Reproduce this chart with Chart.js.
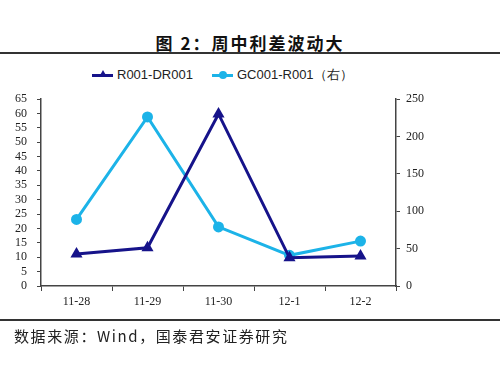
<!DOCTYPE html>
<html>
<head>
<meta charset="utf-8">
<script src="https://cdn.jsdelivr.net/npm/chart.js@4/dist/chart.umd.min.js"></script>
<style>
  body { margin: 0; background: #fff; }
  #wrap { position: relative; width: 500px; height: 374px; overflow: hidden; }
  #title { position: absolute; top: 30px; left: 0; width: 500px; text-align: center;
    font-family: "Noto Sans CJK SC", sans-serif; font-weight: bold; font-size: 17px;
    letter-spacing: 2px; color: #111; }
  .rule { position: absolute; left: 0; width: 500px; height: 2px; background: #333; }
  #src { position: absolute; top: 325px; left: 14px; font-family: "Noto Sans CJK SC", serif;
    font-size: 15px; letter-spacing: 1.6px; color: #222; }
  #legend { position: absolute; top: 67px; left: 92px; font-family: "Liberation Sans", sans-serif;
    font-size: 13px; color: #222; }
  .item { position: absolute; top: 0; white-space: nowrap; }
  .ln { position: absolute; top: 7px; left: 0; width: 21px; height: 3px; }
  .txt { position: absolute; top: 0; left: 25px; line-height: 16px; }
  canvas { position: absolute; top: 0; left: 0; }
</style>
</head>
<body>
<div id="wrap">
  <div id="title">图 2：周中利差波动大</div>
  <div class="rule" style="top:52px"></div>
  <div id="legend"></div>
  <canvas id="chart" width="500" height="374"></canvas>
  <div class="rule" style="top:319px"></div>
  <div id="src">数据来源：Wind，国泰君安证券研究</div>
</div>
<script>
const labels = ["11-28", "11-29", "11-30", "12-1", "12-2"];
const r001Dr001 = [11.1, 13.3, 59.8, 9.8, 10.4];
const gc001R001 = [89, 226, 79, 41, 60];
const leftTicks = [0, 65, 5];
const rightTicks = [0, 250, 50];

const navy = "#16138a";
const cyan = "#1cb3e8";

// legend
const legend = document.getElementById("legend");
legend.innerHTML =
  '<div class="item" style="left:0"><div class="ln" style="background:' + navy + '"></div>' +
  '<div style="position:absolute;left:7px;top:3px;width:0;height:0;border-left:4px solid transparent;border-right:4px solid transparent;border-bottom:7px solid ' + navy + '"></div>' +
  '<div class="txt">R001-DR001</div></div>' +
  '<div class="item" style="left:120px"><div class="ln" style="background:' + cyan + '"></div>' +
  '<div style="position:absolute;left:7px;top:4px;width:8px;height:8px;border-radius:50%;background:' + cyan + '"></div>' +
  '<div class="txt">GC001-R001（右）</div></div>';

const tickFont = { family: "'Liberation Serif', 'Times New Roman', serif", size: 12 };
const axisColor = "#444";

new Chart(document.getElementById("chart"), {
  type: "line",
  data: {
    labels: labels,
    datasets: [{
      label: "R001-DR001",
      data: r001Dr001,
      yAxisID: "y",
      borderColor: navy,
      backgroundColor: navy,
      borderWidth: 3,
      pointStyle: "triangle",
      pointRadius: 4,
      tension: 0
    }, {
      label: "GC001-R001（右）",
      data: gc001R001,
      yAxisID: "y1",
      borderColor: cyan,
      backgroundColor: cyan,
      borderWidth: 3,
      pointStyle: "circle",
      pointRadius: 4,
      tension: 0
    }]
  },
  options: {
    responsive: false,
    animation: false,
    layout: { padding: { top: 99, left: 0, right: 0, bottom: 0 } },
    plugins: { legend: { display: false }, tooltip: { enabled: false } },
    scales: {
      x: {
        offset: true,
        grid: { offset: true, drawOnChartArea: false, tickLength: 5, color: axisColor },
        border: { color: axisColor, width: 1.5 },
        ticks: { font: tickFont, color: "#222", padding: 4 },
        afterFit: s => { s.height = 88; }
      },
      y: {
        position: "left",
        min: leftTicks[0], max: leftTicks[1],
        grid: { drawOnChartArea: false, tickLength: 4, color: axisColor },
        border: { color: axisColor, width: 1.5 },
        ticks: { stepSize: leftTicks[2], autoSkip: false, font: tickFont, color: "#222", padding: 10 },
        afterFit: s => { s.width = 41; }
      },
      y1: {
        position: "right",
        min: rightTicks[0], max: rightTicks[1],
        grid: { drawOnChartArea: false, tickLength: 4, color: axisColor },
        border: { color: axisColor, width: 1.5 },
        ticks: { stepSize: rightTicks[2], autoSkip: false, font: tickFont, color: "#222", padding: 6 },
        afterFit: s => { s.width = 104; }
      }
    }
  }
});
</script>
</body>
</html>
